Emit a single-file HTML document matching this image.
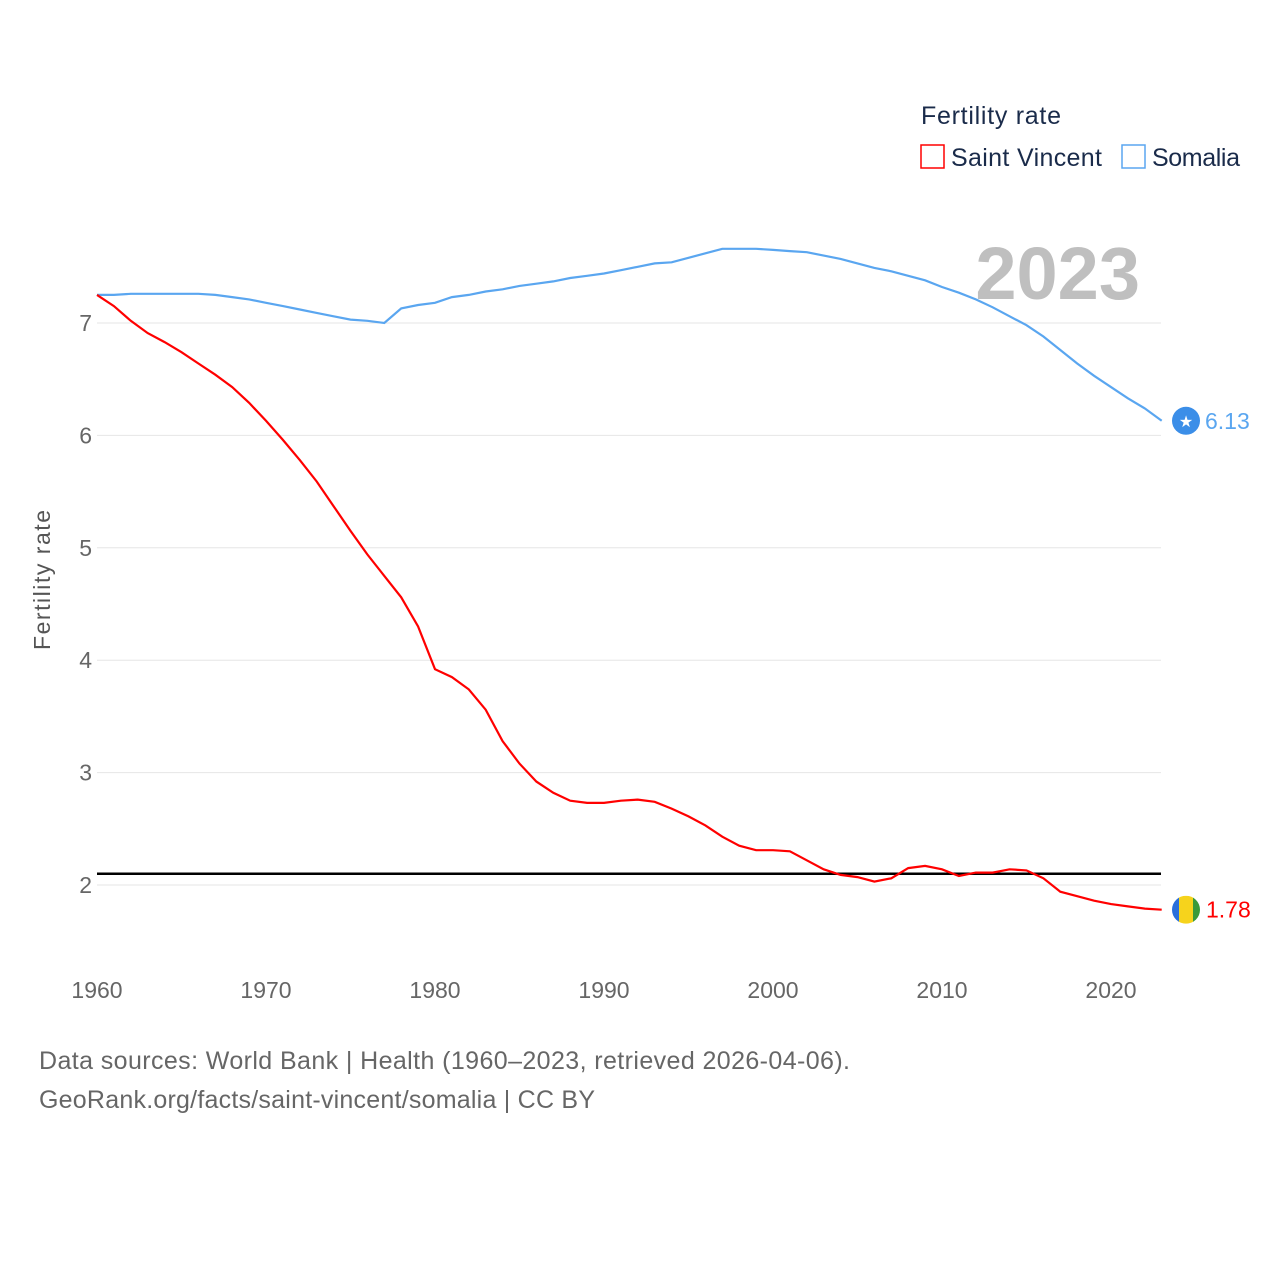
<!DOCTYPE html>
<html><head><meta charset="utf-8"><style>
html,body{margin:0;padding:0;background:#fff;width:1280px;height:1280px;overflow:hidden;font-family:"Liberation Sans",sans-serif}
</style></head><body>
<svg id="chart" width="1280" height="1280" xmlns="http://www.w3.org/2000/svg" font-family="Liberation Sans, sans-serif">
<text x="921" y="124" font-size="25" fill="#1a2b4a" textLength="140">Fertility rate</text>
<g><rect x="921" y="145" width="23" height="23" fill="none" stroke="#f00" stroke-width="1.5"/><text x="951" y="166" font-size="25" fill="#1a2b4a" textLength="151">Saint Vincent</text></g>
<g><rect x="1122" y="145" width="23" height="23" fill="none" stroke="#5aa6f0" stroke-width="1.5"/><text x="1152" y="166" font-size="25" fill="#1a2b4a" textLength="88">Somalia</text></g>
<text x="1140" y="299" font-size="74" font-weight="bold" fill="#bfbfbf" text-anchor="end">2023</text>
<text transform="translate(50,580) rotate(-90)" font-size="23" fill="#555" text-anchor="middle" textLength="140">Fertility rate</text>
<g id="grid"></g><g id="marks"></g>
<text x="39" y="1069" font-size="25" fill="#666" textLength="811">Data sources: World Bank | Health (1960–2023, retrieved 2026-04-06).</text>
<text x="39" y="1108" font-size="25" fill="#666" textLength="556">GeoRank.org/facts/saint-vincent/somalia | CC BY</text>
</svg>
<script>
const years=[];for(let y=1960;y<=2023;y++)years.push(y);
const somalia=[7.25,7.25,7.26,7.26,7.26,7.26,7.26,7.25,7.23,7.21,7.18,7.15,7.12,7.09,7.06,7.03,7.02,7.00,7.13,7.16,7.18,7.23,7.25,7.28,7.30,7.33,7.35,7.37,7.40,7.42,7.44,7.47,7.50,7.53,7.54,7.58,7.62,7.66,7.66,7.66,7.65,7.64,7.63,7.60,7.57,7.53,7.49,7.46,7.42,7.38,7.32,7.27,7.21,7.14,7.06,6.98,6.88,6.76,6.64,6.53,6.43,6.33,6.24,6.13];
const stvincent=[7.25,7.15,7.02,6.91,6.83,6.74,6.64,6.54,6.43,6.29,6.13,5.96,5.78,5.59,5.37,5.15,4.94,4.75,4.56,4.30,3.92,3.85,3.74,3.56,3.28,3.08,2.92,2.82,2.75,2.73,2.73,2.75,2.76,2.74,2.68,2.61,2.53,2.43,2.35,2.31,2.31,2.30,2.22,2.14,2.09,2.07,2.03,2.06,2.15,2.17,2.14,2.08,2.11,2.11,2.14,2.13,2.06,1.94,1.90,1.86,1.83,1.81,1.79,1.78];
const yTicks=[2,3,4,5,6,7];
const xTicks=[1960,1970,1980,1990,2000,2010,2020];
const replacement=2.1;
const X=v=>97+(v-1960)*(1111-97)/60;
const Y=v=>885-(v-2)*(885-323)/5;
const NS="http://www.w3.org/2000/svg";
const grid=document.getElementById('grid'),marks=document.getElementById('marks');
function mk(tag,attrs,parent){const e=document.createElementNS(NS,tag);for(const k in attrs)e.setAttribute(k,attrs[k]);parent.appendChild(e);return e;}
yTicks.forEach(t=>{
 const l=mk('line',{x1:97,x2:1161,y1:Y(t),y2:Y(t),stroke:'#e6e6e6','stroke-width':1},grid);
 
 
 const tx=mk('text',{x:92,y:Y(t)+8,'font-size':23,fill:'#666','text-anchor':'end'},grid);tx.textContent=t;
 
 
});
xTicks.forEach(t=>{
 const tx=mk('text',{x:X(t),y:998,'font-size':23,fill:'#666','text-anchor':'middle'},grid);tx.textContent=t;
 
 
});
const rl=mk('line',{x1:97,x2:1161,y1:Y(replacement),y2:Y(replacement),stroke:'#000','stroke-width':2.5},marks);


function line(vals,color,name){
 const d=vals.map((v,i)=>(i?'L':'M')+X(years[i]).toFixed(1)+','+Y(v).toFixed(1)).join('');
 const p=mk('path',{d:d,fill:'none',stroke:color,'stroke-width':2.2},marks);
 
 
}
line(somalia,'#5aa6f0','somalia-line');
line(stvincent,'#ff0000','saint-vincent-line');
const ls=somalia[somalia.length-1],lv=stvincent[stvincent.length-1];
const c1=mk('circle',{cx:1186,cy:Y(ls),r:14,fill:'#3b8ee8'},marks);


const st=mk('text',{x:1186,y:Y(ls)+6,'font-size':16,fill:'#fff','text-anchor':'middle'},marks);st.textContent='★';
const t1=mk('text',{x:1205,y:Y(ls)+8,'font-size':23,fill:'#5aa6f0'},marks);t1.textContent=ls.toFixed(2);


const g=mk('g',{},marks);


const cy=Y(lv);
const cp=mk('clipPath',{id:'fc'},g);
mk('circle',{cx:1186,cy:cy,r:14},cp);
mk('rect',{x:1172,y:cy-14,width:7,height:28,fill:'#2a6fdb','clip-path':'url(#fc)'},g);
mk('rect',{x:1179,y:cy-14,width:14,height:28,fill:'#f6d31c','clip-path':'url(#fc)'},g);
mk('rect',{x:1193,y:cy-14,width:7,height:28,fill:'#3a9a3a','clip-path':'url(#fc)'},g);
const t2=mk('text',{x:1206,y:cy+8,'font-size':23,fill:'#ff0000'},marks);t2.textContent=lv.toFixed(2);


</script>
</body></html>
